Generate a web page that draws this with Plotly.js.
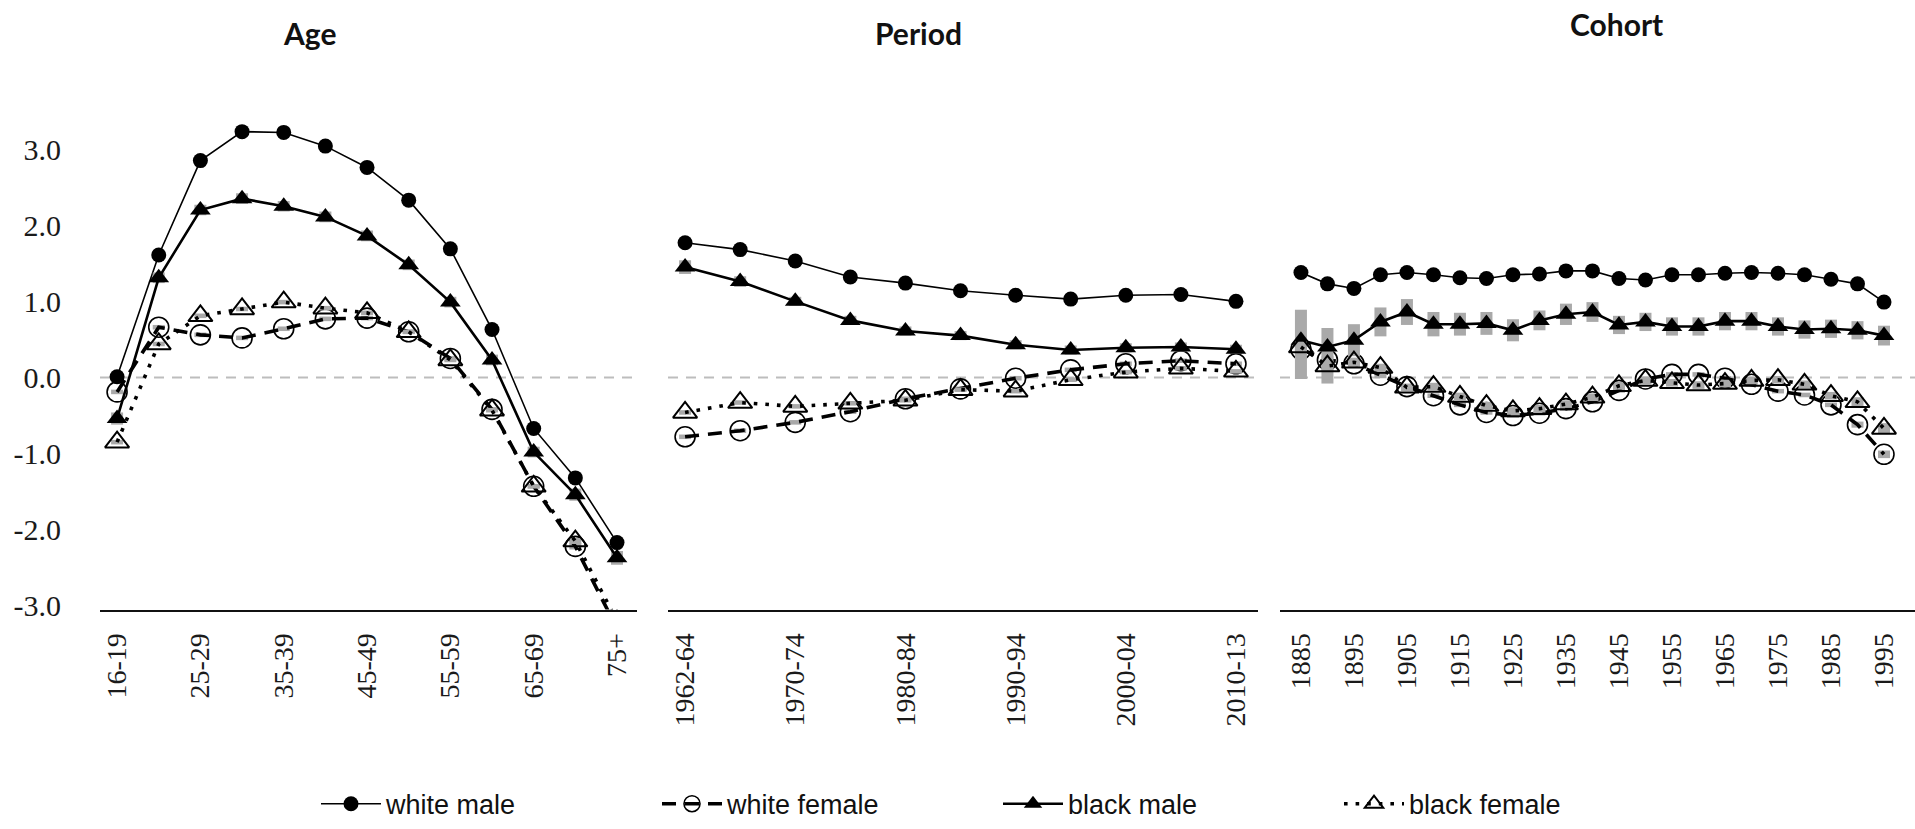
<!DOCTYPE html>
<html>
<head>
<meta charset="utf-8">
<script src="https://cdn.plot.ly/plotly-3.0.1.min.js"></script>
<style>
html,body{margin:0;padding:0;background:#fff;}
#chart{width:1915px;height:829px;}
</style>
</head>
<body>
<div id="chart"></div>
<script>
// ---------- categories ----------
const ageCats = ['16-19','20-24','25-29','30-34','35-39','40-44','45-49','50-54','55-59','60-64','65-69','70-74','75+'];
const periodCats = ['1962-64','1965-69','1970-74','1975-79','1980-84','1985-89','1990-94','1995-99','2000-04','2005-09','2010-13'];
const cohortCats = ['1885','1890','1895','1900','1905','1910','1915','1920','1925','1930','1935','1940','1945','1950','1955','1960','1965','1970','1975','1980','1985','1990','1995'];

// ---------- tick labels ----------
const ageTicks = ['16-19','25-29','35-39','45-49','55-59','65-69','75+'];
const periodTicks = ['1962-64','1970-74','1980-84','1990-94','2000-04','2010-13'];
const cohortTicks = ['1885','1895','1905','1915','1925','1935','1945','1955','1965','1975','1985','1995'];
const yTickVals = [-3,-2,-1,0,1,2,3];
const yTickText = ['-3.0','-2.0','-1.0','0.0','1.0','2.0','3.0'];

// ---------- Age ----------
const ageWhiteMale   = [0.01,1.61,2.85,3.23,3.22,3.04,2.76,2.33,1.69,0.63,-0.67,-1.32,-2.17];
const ageWhiteFemale = [-0.19,0.66,0.56,0.52,0.64,0.77,0.78,0.60,0.25,-0.42,-1.43,-2.22,-3.30];
const ageBlackMale   = [-0.54,1.31,2.20,2.35,2.25,2.11,1.86,1.48,0.99,0.23,-0.98,-1.54,-2.37];
const ageBlackFemale = [-0.85,0.44,0.81,0.90,0.99,0.91,0.85,0.60,0.23,-0.43,-1.43,-2.15,-3.20];
const ageBlackMaleErr   = [0.08,0.07,0.07,0.07,0.07,0.07,0.07,0.07,0.07,0.07,0.07,0.08,0.09];
const ageWhiteFemaleErr = [0.03,0.03,0.03,0.03,0.03,0.03,0.03,0.03,0.03,0.03,0.03,0.04,0.05];
const ageBlackFemaleErr = [0.03,0.03,0.03,0.03,0.03,0.03,0.03,0.03,0.03,0.03,0.03,0.04,0.05];

// ---------- Period ----------
const perWhiteMale   = [1.77,1.68,1.53,1.32,1.24,1.14,1.08,1.03,1.08,1.09,1.00];
const perWhiteFemale = [-0.78,-0.70,-0.59,-0.45,-0.28,-0.15,-0.01,0.10,0.18,0.22,0.18];
const perBlackMale   = [1.45,1.26,1.00,0.75,0.61,0.55,0.43,0.36,0.39,0.40,0.37];
const perBlackFemale = [-0.46,-0.33,-0.38,-0.34,-0.30,-0.16,-0.18,-0.03,0.07,0.12,0.08];
const perBlackMaleErr   = [0.09,0.07,0.06,0.06,0.06,0.06,0.06,0.06,0.06,0.06,0.06];
const perWhiteFemaleErr = [0.03,0.03,0.03,0.03,0.03,0.03,0.03,0.03,0.03,0.03,0.03];
const perBlackFemaleErr = [0.03,0.03,0.03,0.03,0.03,0.03,0.03,0.03,0.03,0.03,0.03];

// ---------- Cohort ----------
const cohWhiteMale   = [1.38,1.23,1.17,1.35,1.38,1.35,1.31,1.30,1.35,1.36,1.40,1.40,1.30,1.28,1.35,1.35,1.37,1.38,1.37,1.35,1.29,1.23,0.99];
const cohWhiteFemale = [0.37,0.23,0.18,0.03,-0.12,-0.24,-0.36,-0.46,-0.50,-0.47,-0.41,-0.32,-0.17,-0.02,0.04,0.04,-0.01,-0.09,-0.18,-0.23,-0.36,-0.62,-1.01];
const cohBlackMale   = [0.49,0.40,0.49,0.73,0.86,0.70,0.70,0.71,0.62,0.75,0.83,0.86,0.69,0.73,0.67,0.67,0.74,0.74,0.67,0.63,0.64,0.62,0.55];
const cohBlackFemale = [0.40,0.15,0.20,0.13,-0.13,-0.12,-0.25,-0.37,-0.44,-0.41,-0.35,-0.26,-0.11,-0.04,-0.07,-0.10,-0.08,-0.04,-0.03,-0.09,-0.24,-0.32,-0.67];
const cohBlackMaleErrPlus  = [0.40,0.25,0.21,0.19,0.17,0.16,0.15,0.15,0.145,0.13,0.14,0.13,0.12,0.12,0.12,0.12,0.12,0.12,0.12,0.12,0.12,0.12,0.13];
const cohBlackMaleErrMinus = [0.51,0.48,0.21,0.19,0.17,0.16,0.15,0.15,0.145,0.13,0.14,0.13,0.12,0.12,0.12,0.12,0.12,0.12,0.12,0.12,0.12,0.12,0.13];
const cohWhiteFemaleErr = [0.05,0.05,0.04,0.04,0.03,0.03,0.03,0.03,0.03,0.03,0.03,0.03,0.03,0.03,0.03,0.03,0.03,0.03,0.03,0.03,0.03,0.04,0.05];
const cohBlackFemaleErr = [0.07,0.07,0.06,0.05,0.05,0.05,0.05,0.05,0.05,0.05,0.05,0.05,0.05,0.05,0.05,0.05,0.05,0.05,0.05,0.05,0.05,0.06,0.07];

// ---------- styles ----------
const GRAY = '#a9a9a9';
const styles = {
  'white male':   {line:{color:'#000',width:1.6,dash:'solid'}, marker:{symbol:'circle',size:15,color:'#000'}},
  'white female': {line:{color:'#000',width:3.6,dash:'14px,9px'}, marker:{symbol:'circle-open',size:20,color:'#000',line:{width:1.6,color:'#000'}}},
  'black male':   {line:{color:'#000',width:2.6,dash:'solid'}, marker:{symbol:'triangle-up',size:18,color:'#000'}},
  'black female': {line:{color:'#000',width:3.6,dash:'3.6px,8px'}, marker:{symbol:'triangle-up-open',size:21,color:'#000',line:{width:2,color:'#000'}}}
};

function errObj(plus, minus){
  if(!plus) return {visible:false};
  const o = {type:'data', array:plus, color:GRAY, thickness:12, width:0, visible:true};
  if(minus){ o.symmetric = false; o.arrayminus = minus; } else { o.symmetric = true; }
  return o;
}

function mk(name, xs, ys, xa, err, errMinus, legend){
  const s = styles[name];
  return {
    type:'scatter', mode:'lines+markers', name:name, legendgroup:name, showlegend:legend,
    x:xs, y:ys, xaxis:xa, yaxis:'y',
    line:s.line, marker:s.marker, error_y:errObj(err, errMinus),
    cliponaxis:true, hoverinfo:'x+y+name'
  };
}

const traces = [
  mk('white male',   ageCats, ageWhiteMale,   'x', null, null, true),
  mk('white female', ageCats, ageWhiteFemale, 'x', ageWhiteFemaleErr, null, true),
  mk('black male',   ageCats, ageBlackMale,   'x', ageBlackMaleErr, null, true),
  mk('black female', ageCats, ageBlackFemale, 'x', ageBlackFemaleErr, null, true),
  mk('white male',   periodCats, perWhiteMale,   'x2', null, null, false),
  mk('white female', periodCats, perWhiteFemale, 'x2', perWhiteFemaleErr, null, false),
  mk('black male',   periodCats, perBlackMale,   'x2', perBlackMaleErr, null, false),
  mk('black female', periodCats, perBlackFemale, 'x2', perBlackFemaleErr, null, false),
  mk('white male',   cohortCats, cohWhiteMale,   'x3', null, null, false),
  mk('white female', cohortCats, cohWhiteFemale, 'x3', cohWhiteFemaleErr, null, false),
  mk('black male',   cohortCats, cohBlackMale,   'x3', cohBlackMaleErrPlus, cohBlackMaleErrMinus, false),
  mk('black female', cohortCats, cohBlackFemale, 'x3', cohBlackFemaleErr, null, false)
];

const W = 1915, H = 829;
const tickFontX = {family:'Liberation Serif, Times New Roman, serif', size:28, color:'#1a1a1a'};
const tickFontY = {family:'Liberation Serif, Times New Roman, serif', size:30, color:'#1a1a1a'};

function xAxis(cats, ticks, domain, range){
  return {
    type:'category', categoryorder:'array', categoryarray:cats,
    domain:domain, range:range, anchor:'y',
    showgrid:false, zeroline:false,
    showline:true, linecolor:'#111', linewidth:2.5,
    ticks:'outside', ticklen:10, tickcolor:'rgba(0,0,0,0)',
    tickmode:'array', tickvals:ticks, ticktext:ticks,
    tickangle:-90, tickfont:tickFontX, fixedrange:true
  };
}

const yBottom = 1 - 614/H;
const yTop = 1 - 73.6/H;

const layout = {
  width:W, height:H,
  margin:{l:0,r:0,t:0,b:0},
  paper_bgcolor:'#fff', plot_bgcolor:'rgba(0,0,0,0)',
  showlegend:true,
  xaxis:  xAxis(ageCats, ageTicks, [100/W, 637/W], [-0.41, 12.48]),
  xaxis2: xAxis(periodCats, periodTicks, [668/W, 1258/W], [-0.31, 10.4]),
  xaxis3: xAxis(cohortCats, cohortTicks, [1280/W, 1915/W], [-0.79, 23.17]),
  yaxis: {
    domain:[yBottom, yTop], range:[-3.05, 4.0], anchor:'x',
    showgrid:false, zeroline:false, showline:false,
    tickmode:'array', tickvals:yTickVals, ticktext:yTickText,
    ticks:'outside', ticklen:32, tickcolor:'rgba(0,0,0,0)',
    tickfont:tickFontY, fixedrange:true
  },
  shapes:[
    {type:'line', xref:'x domain', yref:'y', x0:0, x1:1, y0:0, y1:0, layer:'below', line:{color:'#bdbdbd', width:2, dash:'10px,8px'}},
    {type:'line', xref:'x2 domain', yref:'y', x0:0, x1:1, y0:0, y1:0, layer:'below', line:{color:'#bdbdbd', width:2, dash:'10px,8px'}},
    {type:'line', xref:'x3 domain', yref:'y', x0:0, x1:1, y0:0, y1:0, layer:'below', line:{color:'#bdbdbd', width:2, dash:'10px,8px'}}
  ],
  annotations:[
    {text:'<b>Age</b>', xref:'paper', yref:'paper', x:309/W, y:1-33/H, xanchor:'center', yanchor:'middle', showarrow:false, font:{family:'Lato, Liberation Sans, sans-serif', size:30, color:'#111'}},
    {text:'<b>Period</b>', xref:'paper', yref:'paper', x:918/W, y:1-33/H, xanchor:'center', yanchor:'middle', showarrow:false, font:{family:'Lato, Liberation Sans, sans-serif', size:30, color:'#111'}},
    {text:'<b>Cohort</b>', xref:'paper', yref:'paper', x:1616/W, y:1-24/H, xanchor:'center', yanchor:'middle', showarrow:false, font:{family:'Lato, Liberation Sans, sans-serif', size:30, color:'#111'}}
  ],
  legend:{
    orientation:'h', x:316/W, y:1-810/H, xanchor:'left', yanchor:'middle',
    itemwidth:60, entrywidth:266, entrywidthmode:'pixels',
    font:{family:'Liberation Sans, Arial, sans-serif', size:27, color:'#111'},
    bgcolor:'rgba(0,0,0,0)', traceorder:'normal', itemclick:false, itemdoubleclick:false
  }
};

Plotly.newPlot('chart', traces, layout, {displayModeBar:false, staticPlot:true});
</script>
</body>
</html>
